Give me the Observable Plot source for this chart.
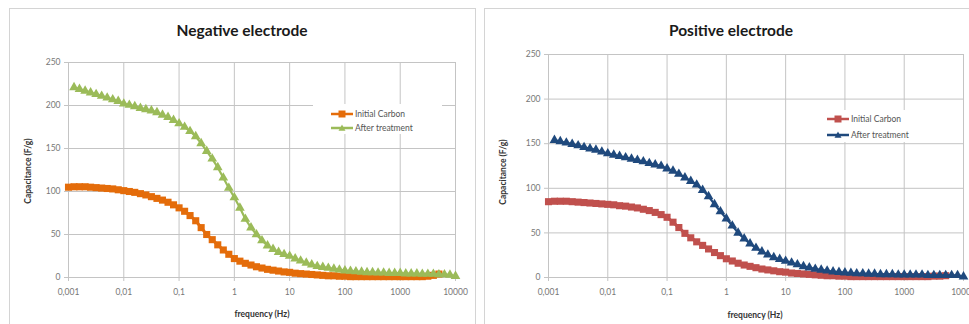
<!DOCTYPE html>
<html>
<head>
<meta charset="utf-8">
<script src="https://cdn.jsdelivr.net/npm/d3@7"></script>
<script src="https://cdn.jsdelivr.net/npm/@observablehq/plot@0.6"></script>
<style>
  html, body { margin: 0; padding: 0; background: #fff; overflow: hidden; }
  #root { position: relative; width: 969px; height: 324px; overflow: hidden; font-family: Lato, "Open Sans", sans-serif; }
  .panel { position: absolute; border: 1px solid #d4d4d4; background: #fff; }
  .abs { position: absolute; white-space: nowrap; }
  .title { font-weight: 700; font-size: 15.5px; color: #1a1a1a; transform: translate(-50%, -50%); }
  .xlab { font-weight: 700; font-size: 8.5px; color: #333; transform: translate(-50%, -50%); }
  .ylab { font-weight: 700; font-size: 8.5px; color: #333; transform: translate(-50%, -50%) rotate(-90deg); }
  .legend { position: absolute; background: #fff; }
  .legrow { position: absolute; display: flex; align-items: center; font-size: 8.5px; color: #555; }
  .legrow svg { display: block; margin-right: 2px; }
</style>
</head>
<body>
<div id="root"></div>
<script>
// ---- data ----
const freqHz = [
  0.001, 0.00126, 0.00158, 0.002, 0.00251, 0.00316, 0.00398, 0.00501, 0.00631, 0.00794,
  0.01, 0.0126, 0.0158, 0.02, 0.0251, 0.0316, 0.0398, 0.0501, 0.0631, 0.0794,
  0.1, 0.126, 0.158, 0.2, 0.251, 0.316, 0.398, 0.501, 0.631, 0.794,
  1, 1.26, 1.58, 2, 2.51, 3.16, 3.98, 5.01, 6.31, 7.94,
  10, 12.6, 15.8, 20, 25.1, 31.6, 39.8, 50.1, 63.1, 79.4,
  100, 126, 158, 200, 251, 316, 398, 501, 631, 794,
  1000, 1260, 1580, 2000, 2510, 3160, 3980, 5010, 6310, 7940,
  10000
];

const negInitialCarbon = [
  105, 105.5, 105.5, 105.5, 105, 104.5, 104, 103.5, 103, 102,
  101, 100, 99, 97.5, 96, 94, 92, 90, 87.5, 84.5,
  81, 77, 72, 66, 58, 50, 44, 38, 32, 27,
  22, 19, 16.5, 14.5, 12.5, 11, 9.5, 8.5, 7.5, 6.5,
  6, 5, 4.5, 4, 3.5, 3, 2.5, 2, 2, 1.5,
  1.5, 1, 1, 1, 1, 1, 1, 1, 1, 1,
  1, 1, 1, 1, 1, 1.5, 2.5, 4, null, null,
  null
];
const negAfterTreatment = [
  null, 221, 219, 217, 215, 213, 211, 209, 207, 205,
  202, 200.5, 199, 197, 195.5, 194, 192, 189, 186.5, 183,
  179, 175, 170, 164, 156, 147, 138, 128, 116, 104,
  93, 81, 68, 58, 50, 43, 37, 33, 29.5, 27,
  25, 22, 19.5, 17, 15, 13, 12, 11, 10, 9,
  8, 7.5, 7, 6.5, 6, 6, 5.5, 5.5, 5, 5,
  5, 4.5, 4.5, 4.5, 4, 4, 4, 3.5, 3.5, 3,
  1.5
];
const posInitialCarbon = [
  85, 85.5, 85.5, 85.5, 85, 84.5, 84, 83.5, 83, 82.5,
  82, 81.5, 80.5, 80, 79, 78, 76.5, 75, 73, 70.5,
  67.5, 62, 56, 49.5, 44.5, 40, 36, 32, 28, 24.5,
  21, 18.5, 16, 14, 12.5, 11, 9.5, 8.5, 7.5, 6.5,
  6, 5, 4.5, 4, 3.5, 3, 2.5, 2, 2, 1.5,
  1.5, 1, 1, 1, 1, 1, 1, 1, 1, 1,
  1, 1, 1, 1, 1, 1.5, 1.5, 2, null, null,
  null
];
const posAfterTreatment = [
  null, 154, 152.5, 151, 149.5, 148, 146, 144.5, 143, 141,
  139, 137.5, 136, 134.5, 133, 131.5, 130, 128, 126.5, 125,
  122, 119.5, 116, 112, 108, 104, 98, 91, 82, 74,
  66, 58, 50, 43.5, 38, 33, 29, 25.5, 22.5, 20.5,
  18.5, 16.5, 14.5, 12.5, 11, 9.5, 8.5, 7.5, 6.5, 6,
  5.5, 5, 4.5, 4.5, 4, 4, 3.5, 3.5, 3.5, 3,
  3, 3, 3, 3, 2.5, 2.5, 2.5, 2.5, 2.5, 2.5,
  1
];

const xTicks = [0.001, 0.01, 0.1, 1, 10, 100, 1000, 10000];
const yTicks = [0, 50, 100, 150, 200, 250];
const seriesNames = ["Initial Carbon", "After treatment"];
const titles = ["Negative electrode", "Positive electrode"];
const xTitle = "frequency (Hz)";
const yTitle = "Capacitance  (F/g)";

const colors = {
  neg: ["#E46C0A", "#9BBB59"],
  pos: ["#C0504D", "#1F497D"]
};

// ---- drawing ----
const root = document.getElementById("root");

function rows(arr) {
  return freqHz.map((f, i) => ({ f, c: arr[i] })).filter(d => d.c != null);
}

function makeChart(initial, after, cols, w, h, m) {
  const a = rows(initial), b = rows(after);
  return Plot.plot({
    width: w, height: h,
    marginLeft: m.l, marginRight: m.r, marginTop: m.t, marginBottom: m.b,
    style: { fontFamily: "Lato, 'Open Sans', sans-serif", fontSize: "8.5px", color: "#777", background: "transparent", overflow: "visible" },
    x: { type: "log", domain: [0.001, 10000] },
    y: { domain: [0, 250] },
    marks: [
      Plot.gridX(xTicks, { stroke: "#c4c4c4", strokeOpacity: 1, strokeWidth: 1 }),
      Plot.gridY(yTicks, { stroke: "#c4c4c4", strokeOpacity: 1, strokeWidth: 1 }),
      Plot.axisX(xTicks, { tickSize: 4, tickPadding: 7, stroke: "#c4c4c4", label: null,
        tickFormat: d => String(d).replace(".", ",") }),
      Plot.axisY(yTicks, { tickSize: 4, tickPadding: 4, stroke: "#c4c4c4", label: null }),
      Plot.line(a, { x: "f", y: "c", stroke: cols[0], strokeWidth: 3 }),
      Plot.dot(a, { x: "f", y: "c", symbol: "square", r: 4, fill: cols[0], stroke: "none" }),
      Plot.line(b, { x: "f", y: "c", stroke: cols[1], strokeWidth: 2.2 }),
      Plot.dot(b, { x: "f", y: "c", symbol: "triangle", r: 3.6, fill: cols[1], stroke: "none" })
    ]
  });
}

function addDiv(cls, text, x, y) {
  const d = document.createElement("div");
  d.className = "abs " + cls;
  d.textContent = text;
  d.style.left = x + "px";
  d.style.top = y + "px";
  root.appendChild(d);
  return d;
}

function swatch(color, symbol) {
  const ns = "http://www.w3.org/2000/svg";
  const s = document.createElementNS(ns, "svg");
  s.setAttribute("width", 22); s.setAttribute("height", 8);
  const l = document.createElementNS(ns, "line");
  l.setAttribute("x1", 0); l.setAttribute("x2", 22); l.setAttribute("y1", 4); l.setAttribute("y2", 4);
  l.setAttribute("stroke", color); l.setAttribute("stroke-width", 2.5);
  s.appendChild(l);
  const p = document.createElementNS(ns, "path");
  p.setAttribute("d", symbol === "square" ? "M7.5,0.5h7v7h-7z" : "M11,0.5L14.5,6.8L7.5,6.8z");
  p.setAttribute("fill", color);
  s.appendChild(p);
  return s;
}

function addLegend(box, cols, rowYs, lineX) {
  const lg = document.createElement("div");
  lg.className = "legend";
  Object.assign(lg.style, { left: box.x + "px", top: box.y + "px", width: box.w + "px", height: box.h + "px" });
  root.appendChild(lg);
  seriesNames.forEach((name, i) => {
    const r = document.createElement("div");
    r.className = "legrow";
    r.style.left = lineX + "px";
    r.style.top = (rowYs[i] - 5) + "px";
    r.appendChild(swatch(cols[i], i === 0 ? "square" : "triangle"));
    const t = document.createElement("span");
    t.textContent = name;
    r.appendChild(t);
    root.appendChild(r);
  });
}

// panels
const p1 = document.createElement("div");
p1.className = "panel";
Object.assign(p1.style, { left: "9px", top: "8px", width: "465px", height: "330px" });
root.appendChild(p1);
const p2 = document.createElement("div");
p2.className = "panel";
Object.assign(p2.style, { left: "484px", top: "8px", width: "520px", height: "330px" });
root.appendChild(p2);

// charts
const c1 = makeChart(negInitialCarbon, negAfterTreatment, colors.neg, 466, 316, { l: 59, r: 20, t: 54, b: 47 });
c1.style.position = "absolute"; c1.style.left = "9px"; c1.style.top = "8px";
root.appendChild(c1);

const c2 = makeChart(posInitialCarbon, posAfterTreatment, colors.pos, 500, 316, { l: 64, r: 21, t: 46, b: 47 });
c2.style.position = "absolute"; c2.style.left = "484px"; c2.style.top = "8px";
root.appendChild(c2);

// titles and axis titles
addDiv("title", titles[0], 242, 30);
addDiv("title", titles[1], 731, 30);
addDiv("xlab", xTitle, 262, 314);
addDiv("xlab", xTitle, 755, 315);
addDiv("ylab", yTitle, 28, 171);
addDiv("ylab", yTitle, 503, 172);

// legends
addLegend({ x: 313, y: 104, w: 129, h: 30 }, colors.neg, [114, 128], 331);
addLegend({ x: 822, y: 110, w: 100, h: 32 }, colors.pos, [119, 135], 827);
</script>
</body>
</html>
